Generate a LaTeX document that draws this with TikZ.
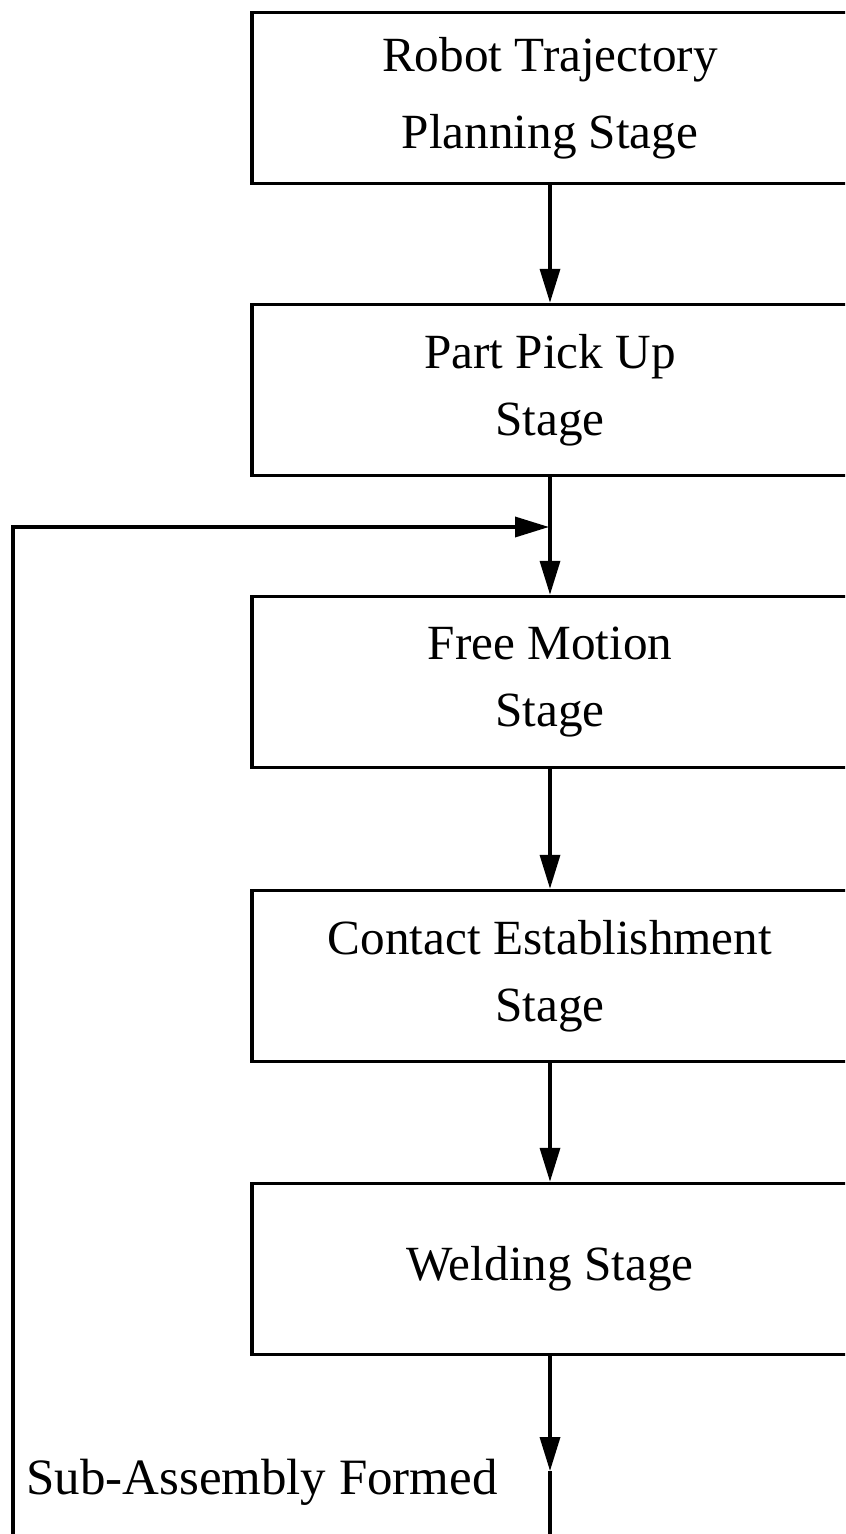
\documentclass[tikz,border=0pt]{standalone}
\usepackage{fontspec}
\setmainfont{Liberation Serif}
\usepackage{tikz}
\usetikzlibrary{arrows.meta}

\begin{document}
\begin{tikzpicture}[x=0.02cm,y=-0.02cm,
	stagebox/.style={draw,line width=2pt,minimum width=11.92cm,minimum height=3.42cm,inner sep=0pt,align=center,font=\fontsize{28}{38}\selectfont},
	flow/.style={line width=2pt,-{Triangle[length=0.68cm,width=0.4cm]}},
	plain/.style={line width=2pt}]
	\path[use as bounding box,clip] (0,0) rectangle (845,1534);
	% stages
	\node[stagebox,font=\fontsize{28}{44}\selectfont] (plan) at (550,98) {Robot Trajectory\\Planning Stage};
	\node[stagebox] (pick) at (550,390) {Part Pick Up\\Stage};
	\node[stagebox] (free) at (550,682) {Free Motion\\Stage};
	\node[stagebox] (contact) at (550,976) {Contact Establishment\\Stage};
	\node[stagebox] (weld) at (550,1269) {Welding Stage};
	\node[font=\fontsize{29}{36}\selectfont] (formed) at (262,1482) {Sub-Assembly Formed};
	\coordinate (join) at (549,527);
	\coordinate (tip) at (550,1471);
	\coordinate (out) at (550,1560);
	\coordinate (loopbot) at (13,1560);
	% arrows
	\draw[flow] (plan) -- (pick);
	\draw[flow] (pick) -- (free);
	\draw[flow] (free) -- (contact);
	\draw[flow] (contact) -- (weld);
	\draw[flow] (weld) -- (tip);
	\draw[plain] (tip) -- (out);
	\draw[flow] (loopbot) |- (join);
\end{tikzpicture}
\end{document}
